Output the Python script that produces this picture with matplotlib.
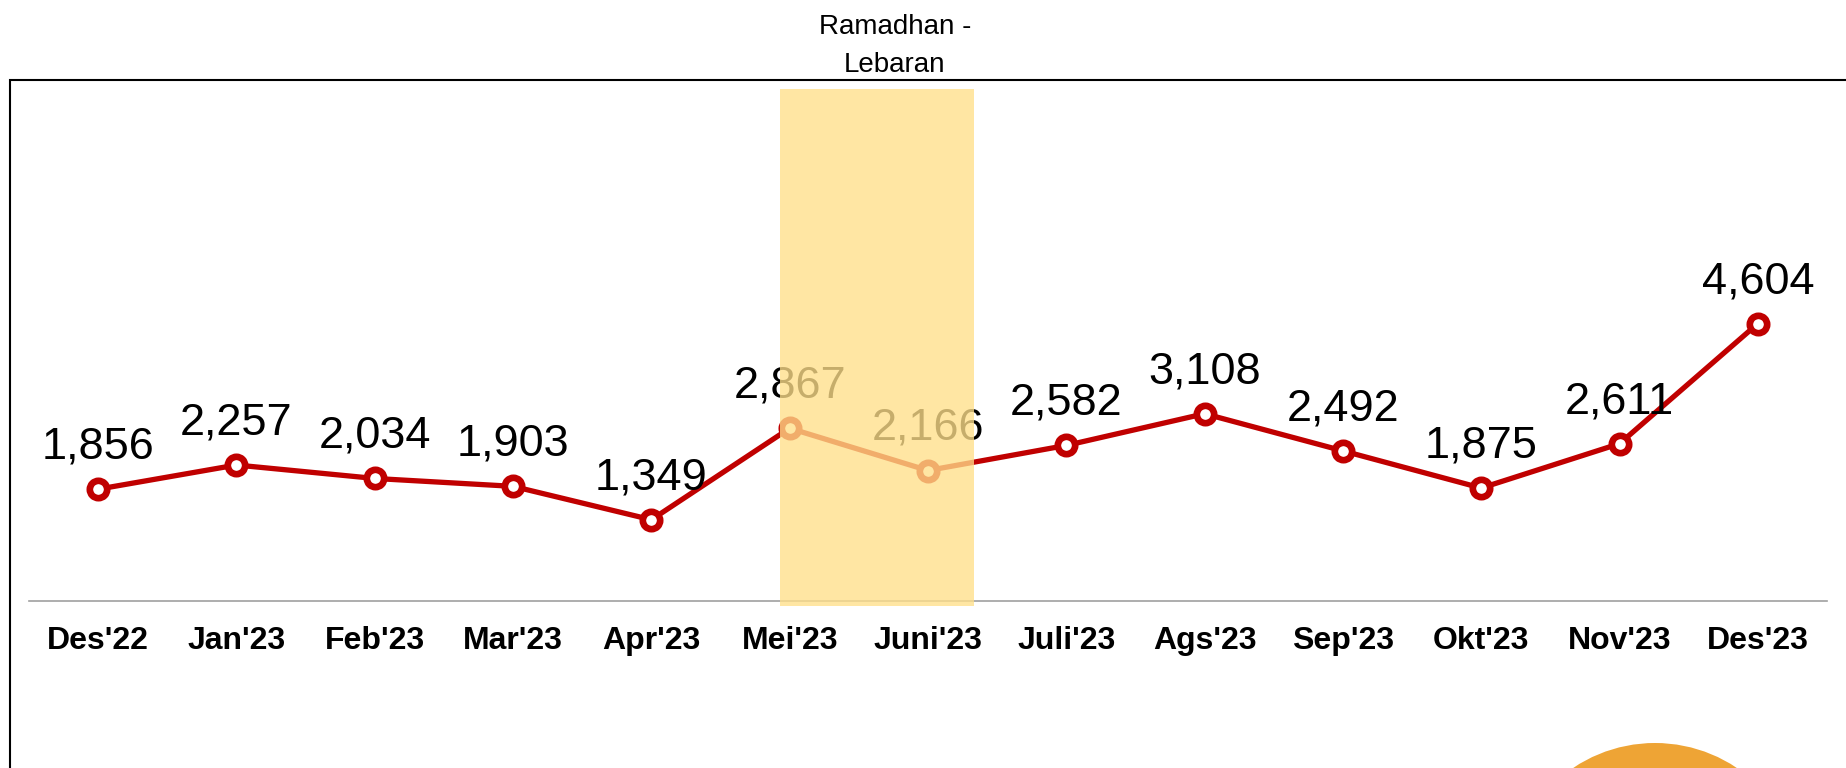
import matplotlib
matplotlib.use("Agg")
import matplotlib.pyplot as plt
from matplotlib.patches import Rectangle, Circle

plt.rcParams['font.family'] = ['Liberation Sans', 'DejaVu Sans']

# data
months = ["Des'22", "Jan'23", "Feb'23", "Mar'23", "Apr'23", "Mei'23", "Juni'23",
          "Juli'23", "Ags'23", "Sep'23", "Okt'23", "Nov'23", "Des'23"]
values = [1856, 2257, 2034, 1903, 1349, 2867, 2166, 2582, 3108, 2492, 1875, 2611, 4604]
highlight_start = 4.93
highlight_end = 6.33
highlight_label = "Ramadhan -\nLebaran"

fig = plt.figure(figsize=(18.46, 7.68), dpi=100)
ax = fig.add_axes([0.0157, 0.2174, 0.974, 0.667])

x = list(range(len(months)))
ax.plot(x, values, color='#C00000', lw=3.8, marker='o', markersize=12.5,
        markerfacecolor='white', markeredgecolor='#C00000', markeredgewidth=4.8, zorder=3)

for xi, v in zip(x, values):
    ax.annotate(f"{v:,}", (xi, v), xytext=(0, 22), textcoords='offset points',
                ha='center', va='baseline', fontsize=32.5, color='black', zorder=4)

# highlighted period, drawn on top so it tints line and labels
ax.add_patch(Rectangle((highlight_start, -90), highlight_end - highlight_start, 8590,
                       facecolor='#FFDF8A', alpha=0.78, edgecolor='none',
                       zorder=5, clip_on=False))
ax.annotate(highlight_label, ((highlight_start + highlight_end) / 2 + 0.13, 1.0),
            xycoords=ax.get_xaxis_transform(), xytext=(0, 8), textcoords='offset points',
            ha='center', va='bottom', fontsize=20, linespacing=1.6)

ax.set_xlim(-0.5, 12.5)
ax.set_ylim(0, 8500)
ax.set_xticks(x)
ax.set_xticklabels(months, fontsize=23, fontweight='bold')
ax.tick_params(axis='x', length=0, pad=18)
ax.set_yticks([])
for s in ['top', 'right', 'left']:
    ax.spines[s].set_visible(False)
ax.spines['bottom'].set_color('#A0A0A0')
ax.spines['bottom'].set_linewidth(1.2)
ax.patch.set_alpha(0)

# outer frame and decorative circle
fig.patches.append(Rectangle((0.10, -0.5), 18.6, 7.38, transform=fig.dpi_scale_trans,
                             fill=False, edgecolor='black', lw=1.5))
fig.patches.append(Circle((16.55, -1.22), 1.47, transform=fig.dpi_scale_trans,
                          facecolor='#EEA435', edgecolor='none'))

fig.savefig('out.png', dpi=100)
